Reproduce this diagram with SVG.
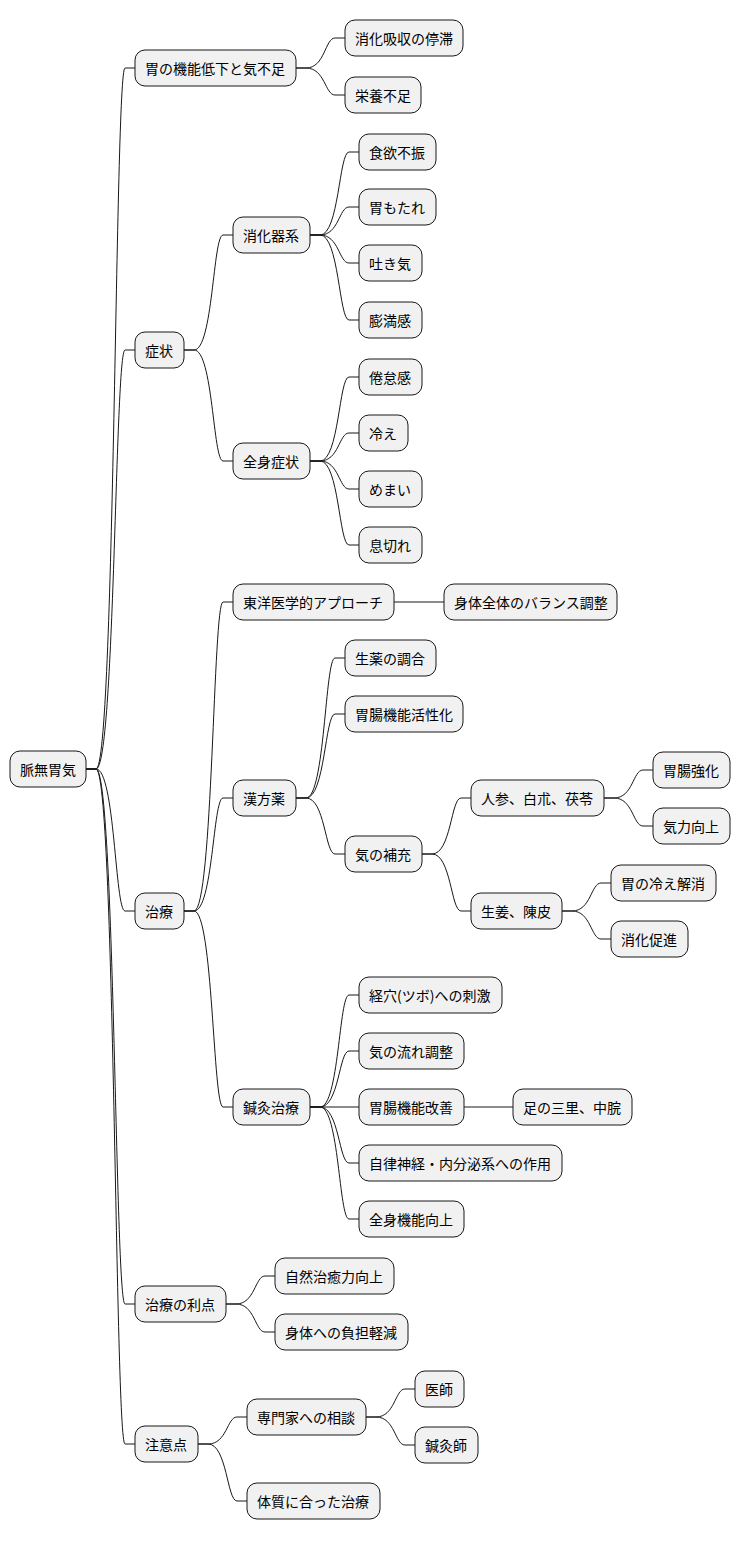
<svg xmlns="http://www.w3.org/2000/svg" width="740" height="1541" viewBox="0 0 740 1541">
<style>
.n rect{fill:#F1F1F1;stroke:#181818;stroke-width:1}
.n text{font-family:"Noto Sans CJK JP","Noto Sans",sans-serif;font-size:14px;fill:#000;dominant-baseline:central}
#c path{fill:none;stroke:#181818;stroke-width:1}
</style>
<rect width="740" height="1541" fill="#fff"/>
<g id="c">
<path d="M86,769 L96,769 C115,769 115,68 125,68 L135,68"/>
<path d="M86,769 L96,769 C115,769 115,350 125,350 L135,350"/>
<path d="M86,769 L96,769 C115,769 115,911 125,911 L135,911"/>
<path d="M86,769 L96,769 C115,769 115,1304 125,1304 L135,1304"/>
<path d="M86,769 L96,769 C115,769 115,1444 125,1444 L135,1444"/>
<path d="M296,68 L306,68 C325,68 325,38 335,38 L345,38"/>
<path d="M296,68 L306,68 C325,68 325,95 335,95 L345,95"/>
<path d="M184,350 L194,350 C213,350 213,235 223,235 L233,235"/>
<path d="M184,350 L194,350 C213,350 213,461 223,461 L233,461"/>
<path d="M310,235 L320,235 C339,235 339,152 349,152 L359,152"/>
<path d="M310,235 L320,235 C339,235 339,207 349,207 L359,207"/>
<path d="M310,235 L320,235 C339,235 339,263 349,263 L359,263"/>
<path d="M310,235 L320,235 C339,235 339,320 349,320 L359,320"/>
<path d="M310,461 L320,461 C339,461 339,377 349,377 L359,377"/>
<path d="M310,461 L320,461 C339,461 339,433 349,433 L359,433"/>
<path d="M310,461 L320,461 C339,461 339,489 349,489 L359,489"/>
<path d="M310,461 L320,461 C339,461 339,545 349,545 L359,545"/>
<path d="M184,911 L194,911 C213,911 213,602 223,602 L233,602"/>
<path d="M184,911 L194,911 C213,911 213,798 223,798 L233,798"/>
<path d="M184,911 L194,911 C213,911 213,1107 223,1107 L233,1107"/>
<path d="M394,602 L444,602"/>
<path d="M296,798 L306,798 C325,798 325,658 335,658 L345,658"/>
<path d="M296,798 L306,798 C325,798 325,714 335,714 L345,714"/>
<path d="M296,798 L306,798 C325,798 325,854 335,854 L345,854"/>
<path d="M422,854 L432,854 C451,854 451,798 461,798 L471,798"/>
<path d="M422,854 L432,854 C451,854 451,911 461,911 L471,911"/>
<path d="M604,798 L614,798 C633,798 633,770 643,770 L653,770"/>
<path d="M604,798 L614,798 C633,798 633,826 643,826 L653,826"/>
<path d="M562,911 L572,911 C591,911 591,883 601,883 L611,883"/>
<path d="M562,911 L572,911 C591,911 591,939 601,939 L611,939"/>
<path d="M310,1107 L320,1107 C339,1107 339,995 349,995 L359,995"/>
<path d="M310,1107 L320,1107 C339,1107 339,1051 349,1051 L359,1051"/>
<path d="M310,1107 L359,1107"/>
<path d="M310,1107 L320,1107 C339,1107 339,1163 349,1163 L359,1163"/>
<path d="M310,1107 L320,1107 C339,1107 339,1219 349,1219 L359,1219"/>
<path d="M464,1107 L513,1107"/>
<path d="M226,1304 L236,1304 C255,1304 255,1276 265,1276 L275,1276"/>
<path d="M226,1304 L236,1304 C255,1304 255,1332 265,1332 L275,1332"/>
<path d="M198,1444 L208,1444 C227,1444 227,1417 237,1417 L247,1417"/>
<path d="M198,1444 L208,1444 C227,1444 227,1501 237,1501 L247,1501"/>
<path d="M366,1417 L376,1417 C395,1417 395,1389 405,1389 L415,1389"/>
<path d="M366,1417 L376,1417 C395,1417 395,1445 405,1445 L415,1445"/>
</g>
<g id="n0" class="n"><rect x="10" y="751" width="76" height="36" rx="10"/><text x="20" y="769">脈無胃気</text></g>
<g id="n1" class="n"><rect x="135" y="50" width="161" height="36" rx="10"/><text x="145" y="68">胃の機能低下と気不足</text></g>
<g id="n2" class="n"><rect x="345" y="20" width="118" height="36" rx="10"/><text x="355" y="38">消化吸収の停滞</text></g>
<g id="n3" class="n"><rect x="345" y="77" width="76" height="36" rx="10"/><text x="355" y="95">栄養不足</text></g>
<g id="n4" class="n"><rect x="135" y="332" width="49" height="36" rx="10"/><text x="145" y="350">症状</text></g>
<g id="n5" class="n"><rect x="233" y="217" width="77" height="36" rx="10"/><text x="243" y="235">消化器系</text></g>
<g id="n6" class="n"><rect x="359" y="134" width="77" height="36" rx="10"/><text x="369" y="152">食欲不振</text></g>
<g id="n7" class="n"><rect x="359" y="189" width="77" height="36" rx="10"/><text x="369" y="207">胃もたれ</text></g>
<g id="n8" class="n"><rect x="359" y="245" width="63" height="36" rx="10"/><text x="369" y="263">吐き気</text></g>
<g id="n9" class="n"><rect x="359" y="302" width="63" height="36" rx="10"/><text x="369" y="320">膨満感</text></g>
<g id="n10" class="n"><rect x="233" y="443" width="77" height="36" rx="10"/><text x="243" y="461">全身症状</text></g>
<g id="n11" class="n"><rect x="359" y="359" width="63" height="36" rx="10"/><text x="369" y="377">倦怠感</text></g>
<g id="n12" class="n"><rect x="359" y="415" width="49" height="36" rx="10"/><text x="369" y="433">冷え</text></g>
<g id="n13" class="n"><rect x="359" y="471" width="63" height="36" rx="10"/><text x="369" y="489">めまい</text></g>
<g id="n14" class="n"><rect x="359" y="527" width="63" height="36" rx="10"/><text x="369" y="545">息切れ</text></g>
<g id="n15" class="n"><rect x="135" y="893" width="49" height="36" rx="10"/><text x="145" y="911">治療</text></g>
<g id="n16" class="n"><rect x="233" y="584" width="161" height="36" rx="10"/><text x="243" y="602">東洋医学的アプローチ</text></g>
<g id="n17" class="n"><rect x="444" y="584" width="173" height="36" rx="10"/><text x="454" y="602">身体全体のバランス調整</text></g>
<g id="n18" class="n"><rect x="233" y="780" width="63" height="36" rx="10"/><text x="243" y="798">漢方薬</text></g>
<g id="n19" class="n"><rect x="345" y="640" width="91" height="36" rx="10"/><text x="355" y="658">生薬の調合</text></g>
<g id="n20" class="n"><rect x="345" y="696" width="118" height="36" rx="10"/><text x="355" y="714">胃腸機能活性化</text></g>
<g id="n21" class="n"><rect x="345" y="836" width="77" height="36" rx="10"/><text x="355" y="854">気の補充</text></g>
<g id="n22" class="n"><rect x="471" y="780" width="133" height="36" rx="10"/><text x="481" y="798">人参、白朮、茯苓</text></g>
<g id="n23" class="n"><rect x="653" y="752" width="77" height="36" rx="10"/><text x="663" y="770">胃腸強化</text></g>
<g id="n24" class="n"><rect x="653" y="808" width="77" height="36" rx="10"/><text x="663" y="826">気力向上</text></g>
<g id="n25" class="n"><rect x="471" y="893" width="91" height="36" rx="10"/><text x="481" y="911">生姜、陳皮</text></g>
<g id="n26" class="n"><rect x="611" y="865" width="105" height="36" rx="10"/><text x="621" y="883">胃の冷え解消</text></g>
<g id="n27" class="n"><rect x="611" y="921" width="77" height="36" rx="10"/><text x="621" y="939">消化促進</text></g>
<g id="n28" class="n"><rect x="233" y="1089" width="77" height="36" rx="10"/><text x="243" y="1107">鍼灸治療</text></g>
<g id="n29" class="n"><rect x="359" y="977" width="143" height="36" rx="10"/><text x="369" y="995">経穴(ツボ)への刺激</text></g>
<g id="n30" class="n"><rect x="359" y="1033" width="105" height="36" rx="10"/><text x="369" y="1051">気の流れ調整</text></g>
<g id="n31" class="n"><rect x="359" y="1089" width="105" height="36" rx="10"/><text x="369" y="1107">胃腸機能改善</text></g>
<g id="n32" class="n"><rect x="513" y="1089" width="119" height="36" rx="10"/><text x="523" y="1107">足の三里、中脘</text></g>
<g id="n33" class="n"><rect x="359" y="1145" width="203" height="36" rx="10"/><text x="369" y="1163">自律神経・内分泌系への作用</text></g>
<g id="n34" class="n"><rect x="359" y="1201" width="105" height="36" rx="10"/><text x="369" y="1219">全身機能向上</text></g>
<g id="n35" class="n"><rect x="135" y="1286" width="91" height="36" rx="10"/><text x="145" y="1304">治療の利点</text></g>
<g id="n36" class="n"><rect x="275" y="1258" width="119" height="36" rx="10"/><text x="285" y="1276">自然治癒力向上</text></g>
<g id="n37" class="n"><rect x="275" y="1314" width="133" height="36" rx="10"/><text x="285" y="1332">身体への負担軽減</text></g>
<g id="n38" class="n"><rect x="135" y="1426" width="63" height="36" rx="10"/><text x="145" y="1444">注意点</text></g>
<g id="n39" class="n"><rect x="247" y="1399" width="119" height="36" rx="10"/><text x="257" y="1417">専門家への相談</text></g>
<g id="n40" class="n"><rect x="415" y="1371" width="49" height="36" rx="10"/><text x="425" y="1389">医師</text></g>
<g id="n41" class="n"><rect x="415" y="1427" width="63" height="36" rx="10"/><text x="425" y="1445">鍼灸師</text></g>
<g id="n42" class="n"><rect x="247" y="1483" width="133" height="36" rx="10"/><text x="257" y="1501">体質に合った治療</text></g>
</svg>
